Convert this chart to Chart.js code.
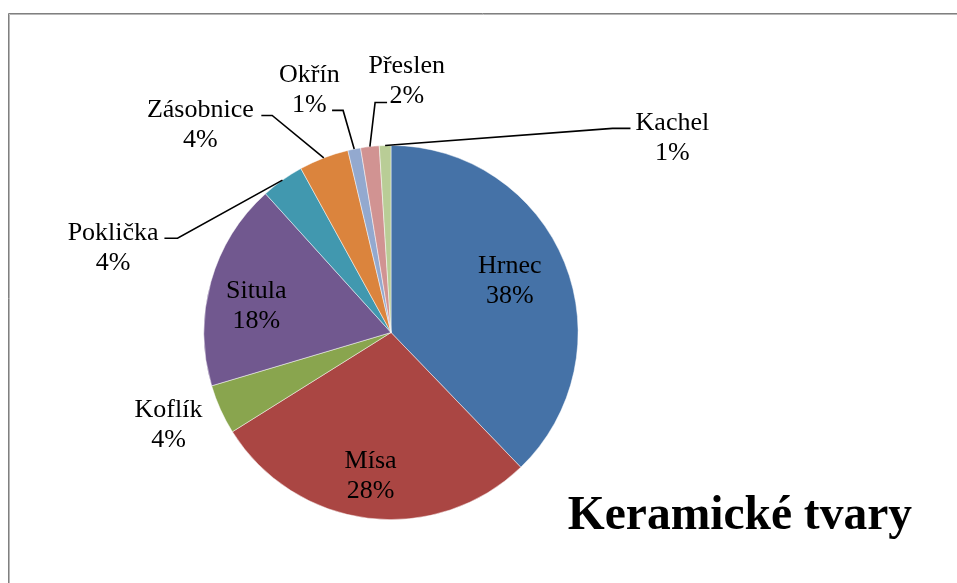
<!DOCTYPE html>
<html>
<head>
<meta charset="utf-8">
<script src="https://cdn.jsdelivr.net/npm/chart.js@4/dist/chart.umd.min.js"></script>
<style>
  html, body { margin: 0; padding: 0; background: #fff; }
  canvas { display: block; }
</style>
</head>
<body>
<canvas id="graf" width="957" height="583"></canvas>
<script>
// Keramické tvary - podíly (%)
const kategorie = ['Hrnec', 'Mísa', 'Koflík', 'Situla', 'Poklička', 'Zásobnice', 'Okřín', 'Přeslen', 'Kachel'];
const hodnoty = [37.8, 28.3, 4.3, 17.9, 3.7, 4.3, 1.1, 1.6, 1.0];
const barvy = ['#4572A7', '#AA4643', '#89A54E', '#71588F', '#4198AF', '#DB843D', '#93A9CF', '#D19392', '#B9CD96'];
const nadpis = 'Keramické tvary';

// umístění popisků (v násobcích poloměru od středu koláče)
const popisky = {
    'Hrnec':     { lx: 0.635, ly: -0.283 },
    'Mísa':      { lx: -0.109, ly: 0.761 },
    'Koflík':    { lx: -1.189, ly: 0.485 },
    'Situla':    { lx: -0.72, ly: -0.152 },
    'Poklička':  { lx: -1.485, ly: -0.461, sx: -1.211, sy: -0.504, ex: -1.141 },
    'Zásobnice': { lx: -1.019, ly: -1.117, sx: -0.693, sy: -1.16, ex: -0.635 },
    'Okřín':     { lx: -0.436, ly: -1.306, sx: -0.315, sy: -1.187, ex: -0.256 },
    'Přeslen':   { lx: 0.084, ly: -1.352, sx: -0.021, sy: -1.229, ex: -0.085 },
    'Kachel':    { lx: 1.504, ly: -1.048, sx: 1.28, sy: -1.091, ex: 1.184 }
};

const FONT = '"Liberation Serif", "Times New Roman", serif';

const popiskyPlugin = {
    id: 'popisky',
    beforeDraw(chart) {
        const ctx = chart.ctx;
        ctx.save();
        ctx.fillStyle = '#fff';
        ctx.fillRect(0, 0, chart.width, chart.height);
        // rámeček grafu
        ctx.strokeStyle = '#808080';
        ctx.lineWidth = 1;
        ctx.beginPath();
        ctx.moveTo(8.5, chart.height); ctx.lineTo(8.5, 13.5); ctx.lineTo(chart.width, 13.5);
        ctx.stroke();
        ctx.strokeStyle = '#b8b8b8';
        ctx.beginPath();
        ctx.moveTo(9.5, chart.height); ctx.lineTo(9.5, 14.5); ctx.lineTo(chart.width, 14.5);
        ctx.stroke();
        ctx.restore();
    },
    afterDraw(chart) {
        const ctx = chart.ctx;
        const meta = chart.getDatasetMeta(0);
        const data = chart.data.datasets[0].data;
        const total = data.reduce((a, b) => a + b, 0);
        ctx.save();
        ctx.fillStyle = '#000';
        ctx.strokeStyle = '#000';
        ctx.lineWidth = 1.6;
        ctx.font = '26px ' + FONT;
        ctx.textAlign = 'center';
        ctx.textBaseline = 'alphabetic';
        meta.data.forEach((arc, i) => {
            const p = arc.getProps(['x', 'y', 'startAngle', 'endAngle', 'outerRadius'], true);
            const R = p.outerRadius;
            const mid = (p.startAngle + p.endAngle) / 2;
            const lay = popisky[chart.data.labels[i]];
            const cx = p.x + lay.lx * R, cy = p.y + lay.ly * R;
            const pct = Math.round(data[i] / total * 100) + '%';
            ctx.fillText(chart.data.labels[i], cx, cy - 15 + 8.6);
            ctx.fillText(pct, cx, cy + 15 + 8.6);
            if (lay.sx !== undefined) {
                ctx.beginPath();
                ctx.moveTo(p.x + lay.sx * R, p.y + lay.sy * R);
                ctx.lineTo(p.x + lay.ex * R, p.y + lay.sy * R);
                ctx.lineTo(p.x + Math.cos(mid) * R, p.y + Math.sin(mid) * R);
                ctx.stroke();
            }
        });
        // nadpis vpravo dole
        ctx.font = 'bold 47.5px ' + FONT;
        ctx.textAlign = 'right';
        ctx.fillText(nadpis, 912, 529);
        ctx.restore();
    }
};

new Chart(document.getElementById('graf'), {
    type: 'pie',
    data: {
        labels: kategorie,
        datasets: [{
            data: hodnoty,
            backgroundColor: barvy,
            borderColor: 'rgba(255,255,255,0.6)',
            borderWidth: 0.8
        }]
    },
    options: {
        responsive: false,
        animation: false,
        layout: { padding: { left: 203.5, top: 145, right: 378.5, bottom: 63 } },
        plugins: {
            legend: { display: false },
            title: { display: false },
            tooltip: { enabled: false }
        }
    },
    plugins: [popiskyPlugin]
});
</script>
</body>
</html>
